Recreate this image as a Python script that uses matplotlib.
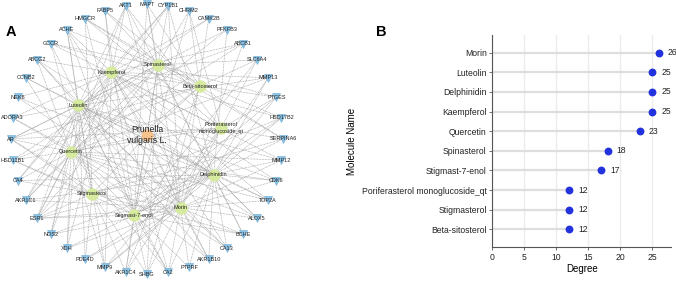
import numpy as np
import matplotlib
matplotlib.use("Agg")
import matplotlib.pyplot as plt
from matplotlib.collections import LineCollection

plt.rcParams['font.family'] = ['Liberation Sans', 'DejaVu Sans']

# ---------------- data ----------------
hub_name = "Prunella\nvulgaris L."

# targets in circular order (clockwise from top)
targets = ["MAPT", "CYP1B1", "CHRM2", "CAMK2B", "PFKFB3", "ABCB1", "SLC6A4", "MMP13",
           "PTGES", "HSD17B2", "SERPINA6", "MMP12", "CDK6", "TOP2A", "ALOX5", "BCHE",
           "CA13", "AKR1B10", "PTPRF", "CA2", "SHBG", "AKR1C4", "MMP9", "PDE4D", "XDH",
           "NOS2", "ESR1", "AKR1C1", "CA4", "HSD11B1", "AR", "ADORA3", "NEK6", "CCNB2",
           "ABCG2", "GCCR", "ACHE", "HMGCR", "FABP5", "AKT1"]

# compounds in circular order (counter-clockwise from top)
compounds = ["Spinasterol", "Kaempferol", "Luteolin", "Quercetin", "Stigmasterol",
             "Stigmast-7-enol", "Morin", "Delphinidin",
             "Poriferasterol\nmonoglucoside_qt", "Beta-sitosterol"]

flav_core = ["ABCG2", "AKR1B10", "AKR1C1", "ALOX5", "CA2", "CA4", "CA13", "XDH", "NOS2",
             "MMP9", "MMP12", "MMP13", "CDK6", "TOP2A", "ESR1"]
sterol_core = ["HMGCR", "GCCR", "HSD11B1", "SERPINA6", "SHBG", "AR", "AKR1C4"]

links = {
    "Morin": flav_core + ["ADORA3", "AKT1", "CYP1B1", "PTPRF", "PDE4D", "CAMK2B", "NEK6",
                          "ABCB1", "ACHE", "MAPT", "BCHE"],
    "Luteolin": flav_core + ["ADORA3", "AKT1", "CYP1B1", "PDE4D", "CAMK2B", "PFKFB3",
                             "CCNB2", "ABCB1", "ACHE", "AR"],
    "Delphinidin": flav_core + ["AKT1", "CYP1B1", "PTPRF", "PDE4D", "PFKFB3", "NEK6",
                                "CCNB2", "HSD17B2", "PTGES", "BCHE"],
    "Kaempferol": flav_core + ["ADORA3", "AKT1", "CYP1B1", "HSD17B2", "CAMK2B", "NEK6",
                               "ABCB1", "ACHE", "FABP5", "PTGES"],
    "Quercetin": flav_core + ["ADORA3", "AKT1", "CYP1B1", "PTPRF", "PFKFB3", "CCNB2",
                              "ABCB1", "AR"],
    "Spinasterol": sterol_core + ["HSD17B2", "ESR1", "AKR1C1", "CHRM2", "ACHE", "BCHE",
                                  "SLC6A4", "FABP5", "PTGES", "CYP1B1", "MAPT"],
    "Stigmast-7-enol": sterol_core + ["HSD17B2", "ESR1", "CHRM2", "ACHE", "BCHE", "SLC6A4",
                                      "FABP5", "PTGES", "MAPT", "CA2"],
    "Poriferasterol\nmonoglucoside_qt": sterol_core + ["CHRM2", "SLC6A4", "PTGES", "MMP9",
                                                       "AKT1"],
    "Stigmasterol": sterol_core + ["HSD17B2", "ESR1", "ACHE", "BCHE", "PDE4D"],
    "Beta-sitosterol": sterol_core + ["ESR1", "CHRM2", "SLC6A4", "FABP5", "MAPT"],
}

# panel B
molecules = ["Morin", "Luteolin", "Delphinidin", "Kaempferol", "Quercetin", "Spinasterol",
             "Stigmast-7-enol", "Poriferasterol monoglucoside_qt", "Stigmasterol",
             "Beta-sitosterol"]
degree = [26, 25, 25, 25, 23, 18, 17, 12, 12, 12]
xticks_b = [0, 5, 10, 15, 20, 25]

# ---------------- figure ----------------
fig = plt.figure(figsize=(6.76, 2.83), dpi=100)

# ---- Panel A: network (axes in pixel-like units) ----
axA = fig.add_axes([0, 0, 300 / 676, 1])
axA.set_xlim(0, 300)
axA.set_ylim(283, 0)
axA.axis('off')

# circular layouts
n_t = len(targets)
t_ang = np.deg2rad(90 - 360 * np.arange(n_t) / n_t)
t_cx, t_cy, t_rx, t_ry = 147, 139, 136, 135
t_pos = {t: (t_cx + t_rx * np.cos(a), t_cy - t_ry * np.sin(a)) for t, a in zip(targets, t_ang)}

n_c = len(compounds)
c_ang = np.deg2rad(81 + 360 * np.arange(n_c) / n_c)
c_cx, c_cy, c_r = 146, 140, 76
c_pos = {c: (c_cx + c_r * np.cos(a), c_cy - c_r * np.sin(a)) for c, a in zip(compounds, c_ang)}
hub_pos = (147, 135)

segs = []
for c in compounds:
    for t in links[c]:
        segs.append([c_pos[c], t_pos[t]])
for c in compounds:
    segs.append([hub_pos, c_pos[c]])
lc = LineCollection(segs, colors='#a2a2a2', linewidths=0.5, linestyles=(0, (1.2, 1.0)),
                    zorder=1)
axA.add_collection(lc)

# target nodes
tx = [t_pos[t][0] for t in targets]
ty = [t_pos[t][1] for t in targets]
axA.plot(tx, ty, linestyle='none', marker='v', ms=5.5, color='#8cc4e6', mec='#6aaad6',
         mew=0.4, zorder=2)
for t in targets:
    axA.text(*t_pos[t], t, fontsize=4, ha='center', va='center', color='#222222', zorder=3)

# compound nodes
cx = [c_pos[c][0] for c in compounds]
cy = [c_pos[c][1] for c in compounds]
axA.plot(cx, cy, linestyle='none', marker='o', ms=8, color='#d6eaa0', mec='#d6eaa0',
         zorder=2)
for c in compounds:
    axA.text(*c_pos[c], c, fontsize=4, ha='center', va='center', color='#222222',
             zorder=3, linespacing=1.6)

# hub
axA.plot(*hub_pos, marker='o', ms=7.5, color='#f7c18c', mec='#f7c18c', zorder=2)
axA.text(*hub_pos, hub_name, fontsize=6.2, ha='center', va='center', color='#222222',
         zorder=3, linespacing=1.15)

fig.text(6 / 676, 1 - 32 / 283, "A", fontsize=10.5, fontweight='bold', ha='left',
         va='center')

# ---- Panel B: lollipop ----
axB = fig.add_axes([492.3 / 676, 1 - 247.3 / 283, (671 - 492.3) / 676, (247.3 - 35) / 283])
ypos = np.arange(len(molecules), 0, -1)
axB.hlines(ypos, 0, degree, color='#dedede', lw=1.6, zorder=2)
axB.scatter(degree, ypos, s=32, color='#2233dd', zorder=3, linewidths=0)
for v, y in zip(degree, ypos):
    axB.annotate(str(v), (v, y), xytext=(6.5, 0), textcoords='offset points',
                 fontsize=6.2, va='center', ha='left', color='#222222', zorder=4,
                 annotation_clip=False)
axB.set_yticks(ypos)
axB.set_yticklabels(molecules, fontsize=6.2, color='#222222')
axB.set_xticks(xticks_b)
axB.set_xticklabels([str(x) for x in xticks_b], fontsize=6.2, color='#222222')
axB.set_xlim(0, 27.9)
axB.set_ylim(0.08, 10.9)
axB.grid(axis='x', color='#ececec', lw=1.0, zorder=0)
axB.set_axisbelow(True)
for s in ['top', 'right']:
    axB.spines[s].set_visible(False)
for s in ['left', 'bottom']:
    axB.spines[s].set_color('#555555')
    axB.spines[s].set_linewidth(0.8)
axB.tick_params(length=2.5, width=0.6, color='#555555', pad=1.5)
axB.set_xlabel("Degree", fontsize=7, labelpad=1.5)
axB.set_ylabel("Molecule Name", fontsize=7, labelpad=3)
axB.yaxis.set_label_coords(-(492.3 - 357) / (671 - 492.3), 0.5)

fig.text(381.7 / 676, 1 - 32 / 283, "B", fontsize=10.5, fontweight='bold', ha='center',
         va='center')

fig.savefig("out.png", dpi=100)
